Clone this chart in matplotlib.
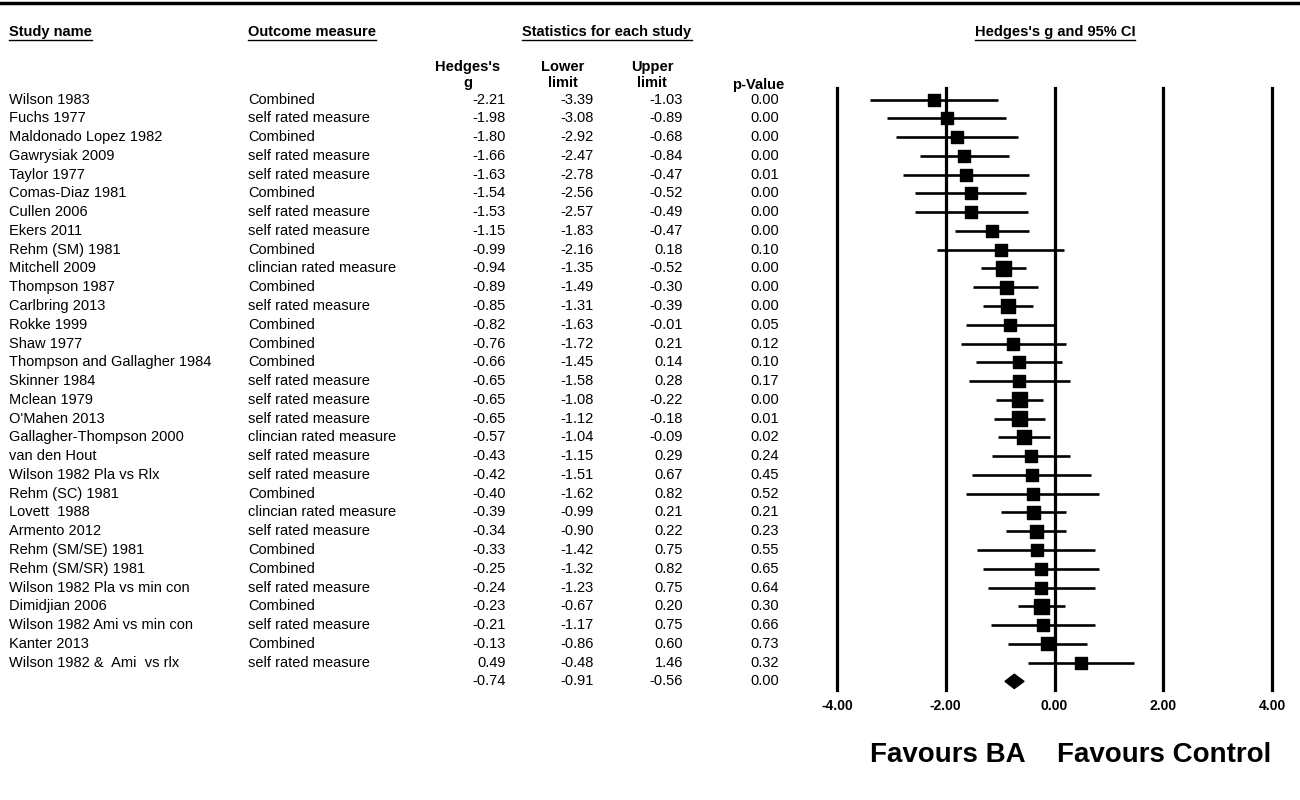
import matplotlib
matplotlib.use("Agg")
import matplotlib.pyplot as plt
import matplotlib.transforms as mtransforms
from matplotlib.lines import Line2D

plt.rcParams['font.family'] = ['Liberation Sans', 'DejaVu Sans']

studies = ["Wilson 1983", "Fuchs 1977", "Maldonado Lopez 1982", "Gawrysiak 2009",
           "Taylor 1977", "Comas-Diaz 1981", "Cullen 2006", "Ekers 2011",
           "Rehm (SM) 1981", "Mitchell 2009", "Thompson 1987", "Carlbring 2013",
           "Rokke 1999", "Shaw 1977", "Thompson and Gallagher 1984", "Skinner 1984",
           "Mclean 1979", "O'Mahen 2013", "Gallagher-Thompson 2000", "van den Hout",
           "Wilson 1982 Pla vs Rlx", "Rehm (SC) 1981", "Lovett  1988", "Armento 2012",
           "Rehm (SM/SE) 1981", "Rehm (SM/SR) 1981", "Wilson 1982 Pla vs min con",
           "Dimidjian 2006", "Wilson 1982 Ami vs min con", "Kanter 2013",
           "Wilson 1982 &  Ami  vs rlx"]
outcomes = ["Combined", "self rated measure", "Combined", "self rated measure",
            "self rated measure", "Combined", "self rated measure", "self rated measure",
            "Combined", "clincian rated measure", "Combined", "self rated measure",
            "Combined", "Combined", "Combined", "self rated measure",
            "self rated measure", "self rated measure", "clincian rated measure", "self rated measure",
            "self rated measure", "Combined", "clincian rated measure", "self rated measure",
            "Combined", "Combined", "self rated measure",
            "Combined", "self rated measure", "Combined",
            "self rated measure"]
g = [-2.21, -1.98, -1.80, -1.66, -1.63, -1.54, -1.53, -1.15, -0.99, -0.94, -0.89, -0.85,
     -0.82, -0.76, -0.66, -0.65, -0.65, -0.65, -0.57, -0.43, -0.42, -0.40, -0.39, -0.34,
     -0.33, -0.25, -0.24, -0.23, -0.21, -0.13, 0.49]
lower = [-3.39, -3.08, -2.92, -2.47, -2.78, -2.56, -2.57, -1.83, -2.16, -1.35, -1.49, -1.31,
         -1.63, -1.72, -1.45, -1.58, -1.08, -1.12, -1.04, -1.15, -1.51, -1.62, -0.99, -0.90,
         -1.42, -1.32, -1.23, -0.67, -1.17, -0.86, -0.48]
upper = [-1.03, -0.89, -0.68, -0.84, -0.47, -0.52, -0.49, -0.47, 0.18, -0.52, -0.30, -0.39,
         -0.01, 0.21, 0.14, 0.28, -0.22, -0.18, -0.09, 0.29, 0.67, 0.82, 0.21, 0.22,
         0.75, 0.82, 0.75, 0.20, 0.75, 0.60, 1.46]
pval = [0.00, 0.00, 0.00, 0.00, 0.01, 0.00, 0.00, 0.00, 0.10, 0.00, 0.00, 0.00,
        0.05, 0.12, 0.10, 0.17, 0.00, 0.01, 0.02, 0.24, 0.45, 0.52, 0.21, 0.23,
        0.55, 0.65, 0.64, 0.30, 0.66, 0.73, 0.32]
summary = (-0.74, -0.91, -0.56, 0.00)
# square sizes in pixels
box_px = [12, 12, 12, 12, 12, 12, 12, 12, 12, 15, 13, 14, 12, 12, 12, 12,
          15, 15, 14, 12, 12, 12, 13, 13, 12, 12, 12, 15, 12, 13, 12]
ticks = [-4, -2, 0, 2, 4]

W, H = 1300, 800
fig = plt.figure(figsize=(13, 8), dpi=100)

n = len(studies)
# row i sits at pixel 99.5 + 18.77*i; axes spans pixels 88..690
step = 18.77
y_top = (88 - 99.5) / step
y_bot = (690 - 99.5) / step
ax = fig.add_axes([837 / W, 1 - 690 / H, (1272 - 837) / W, (690 - 88) / H])
ax.set_xlim(-4, 4)
ax.set_ylim(y_bot, y_top)
ax.axis('off')

for t in ticks:
    ax.axvline(t, color='black', lw=2.3, clip_on=False)
    ax.text(t, (706 - 99.5) / step, f"{t:.2f}", ha='center', va='center',
            fontsize=10, fontweight='bold')

rows = list(range(n))
ax.hlines(rows, lower, upper, color='black', lw=1.9)
ax.scatter(g, rows, marker='s', s=[(p * 0.72) ** 2 for p in box_px], color='black', zorder=3)

sg, slo, sup, sp = summary
h = 0.38
ax.fill([slo, sg, sup, sg], [n, n - h, n, n + h], color='black', zorder=3)

# table text
tr = mtransforms.blended_transform_factory(fig.transFigure, ax.transData)
fs = 10.5
for i in range(n):
    fig.text(9 / W, i, studies[i], transform=tr, fontsize=fs, va='center')
    fig.text(248 / W, i, outcomes[i], transform=tr, fontsize=fs, va='center')
    fig.text(506 / W, i, f"{g[i]:.2f}", transform=tr, fontsize=fs, va='center', ha='right')
    fig.text(594 / W, i, f"{lower[i]:.2f}", transform=tr, fontsize=fs, va='center', ha='right')
    fig.text(683 / W, i, f"{upper[i]:.2f}", transform=tr, fontsize=fs, va='center', ha='right')
    fig.text(779 / W, i, f"{pval[i]:.2f}", transform=tr, fontsize=fs, va='center', ha='right')
for x, v in zip([506, 594, 683, 779], summary):
    fig.text(x / W, n, f"{v:.2f}", transform=tr, fontsize=fs, va='center', ha='right')

# column sub-headers
sub = dict(fontsize=fs, fontweight='bold', ha='center', va='center', linespacing=1.15)
fig.text(468 / W, 1 - 75 / H, "Hedges's\ng", **sub)
fig.text(563 / W, 1 - 75 / H, "Lower\nlimit", **sub)
fig.text(652 / W, 1 - 75 / H, "Upper\nlimit", **sub)
fig.text(758 / W, 1 - 85 / H, "p-Value", **sub)

# underlined headers
heads = [(9, 'left', "Study name"), (248, 'left', "Outcome measure"),
         (607, 'center', "Statistics for each study"), (1055, 'center', "Hedges's g and 95% CI")]
head_txt = [fig.text(x / W, 1 - 32 / H, s, fontsize=fs, fontweight='bold', ha=a, va='center')
            for x, a, s in heads]

fig.text(948 / W, 1 - 755 / H, "Favours BA", fontsize=20, fontweight='bold', ha='center', va='center')
fig.text(1164 / W, 1 - 755 / H, "Favours Control", fontsize=20, fontweight='bold', ha='center', va='center')

# top rule
fig.add_artist(Line2D([0, 1], [1 - 3 / H, 1 - 3 / H], color='black', lw=2.5))

fig.canvas.draw()
r = fig.canvas.get_renderer()
for t in head_txt:
    bb = t.get_window_extent(r).transformed(fig.transFigure.inverted())
    yl = bb.y0 - 1 / H
    fig.add_artist(Line2D([bb.x0, bb.x1], [yl, yl], color='black', lw=1.0))

fig.savefig("out.png", dpi=100)
